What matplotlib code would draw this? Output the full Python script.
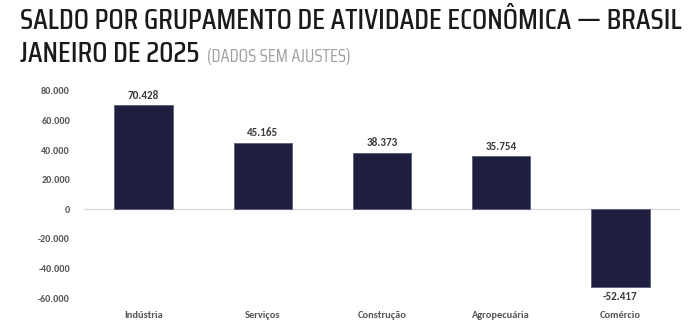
import matplotlib
matplotlib.use("Agg")
import matplotlib.pyplot as plt

categorias = ["Indústria", "Serviços", "Construção", "Agropecuária", "Comércio"]
saldo = [70428, 45165, 38373, 35754, -52417]
yticks = [-60000, -40000, -20000, 0, 20000, 40000, 60000, 80000]

def fmt(v):
    return f"{v:,}".replace(",", ".")

titulo_font = ["Saira Condensed", "DejaVu Sans"]
plt.rcParams["font.family"] = ["Carlito", "Open Sans", "DejaVu Sans"]

fig = plt.figure(figsize=(6.88, 3.22), dpi=100)
ax = fig.add_axes([84/688, 1-298/322, 596/688, 207/322])

ax.bar(range(len(categorias)), saldo, width=0.49, color="#1e1f40",
       edgecolor="#5a5f7a", linewidth=0.6, zorder=3)
ax.axhline(0, color="#d9d9d9", linewidth=1, zorder=2)

# rotulos de valor
for i, v in enumerate(saldo):
    if v >= 0:
        ax.text(i, v + 3000, fmt(v), ha="center", va="bottom", fontsize=8,
                fontweight="bold", color="#3a3a3a")
    else:
        ax.text(i, v - 2800, fmt(v), ha="center", va="top", fontsize=8,
                fontweight="bold", color="#3a3a3a")

ax.set_xlim(-0.5, len(categorias) - 0.5)
ax.set_ylim(-60000, 80000)
ax.set_yticks(yticks)
ax.set_yticklabels([fmt(t) for t in yticks], fontsize=7.3, fontweight="bold", color="#555555")
ax.set_xticks(range(len(categorias)))
ax.set_xticklabels(categorias, fontsize=7.5, fontweight="bold", color="#555555")
ax.tick_params(length=0)
ax.tick_params(axis="y", pad=10)
ax.tick_params(axis="x", pad=9)
for s in ax.spines.values():
    s.set_visible(False)

t1 = fig.text(20/688, 1-21/322, "SALDO POR GRUPAMENTO DE ATIVIDADE ECONÔMICA — BRASIL",
              fontsize=22, family=titulo_font, fontweight="medium", color="#1a1a1a", va="center")
fig.canvas.draw()
w = t1.get_window_extent().width
tam = 22 * 662 / w
t1.set_fontsize(tam)
t2 = fig.text(20/688, 1-54/322, "JANEIRO DE 2025", fontsize=tam, family=titulo_font,
              fontweight="medium", color="#1a1a1a", va="center")
fig.canvas.draw()
bb = t2.get_window_extent()
fig.text((bb.x1 + 8)/688, 1-57/322, "(DADOS SEM AJUSTES)", fontsize=tam*0.62,
         family=titulo_font, color="#a0a0a0", va="center")

fig.savefig("out.png", dpi=100)
